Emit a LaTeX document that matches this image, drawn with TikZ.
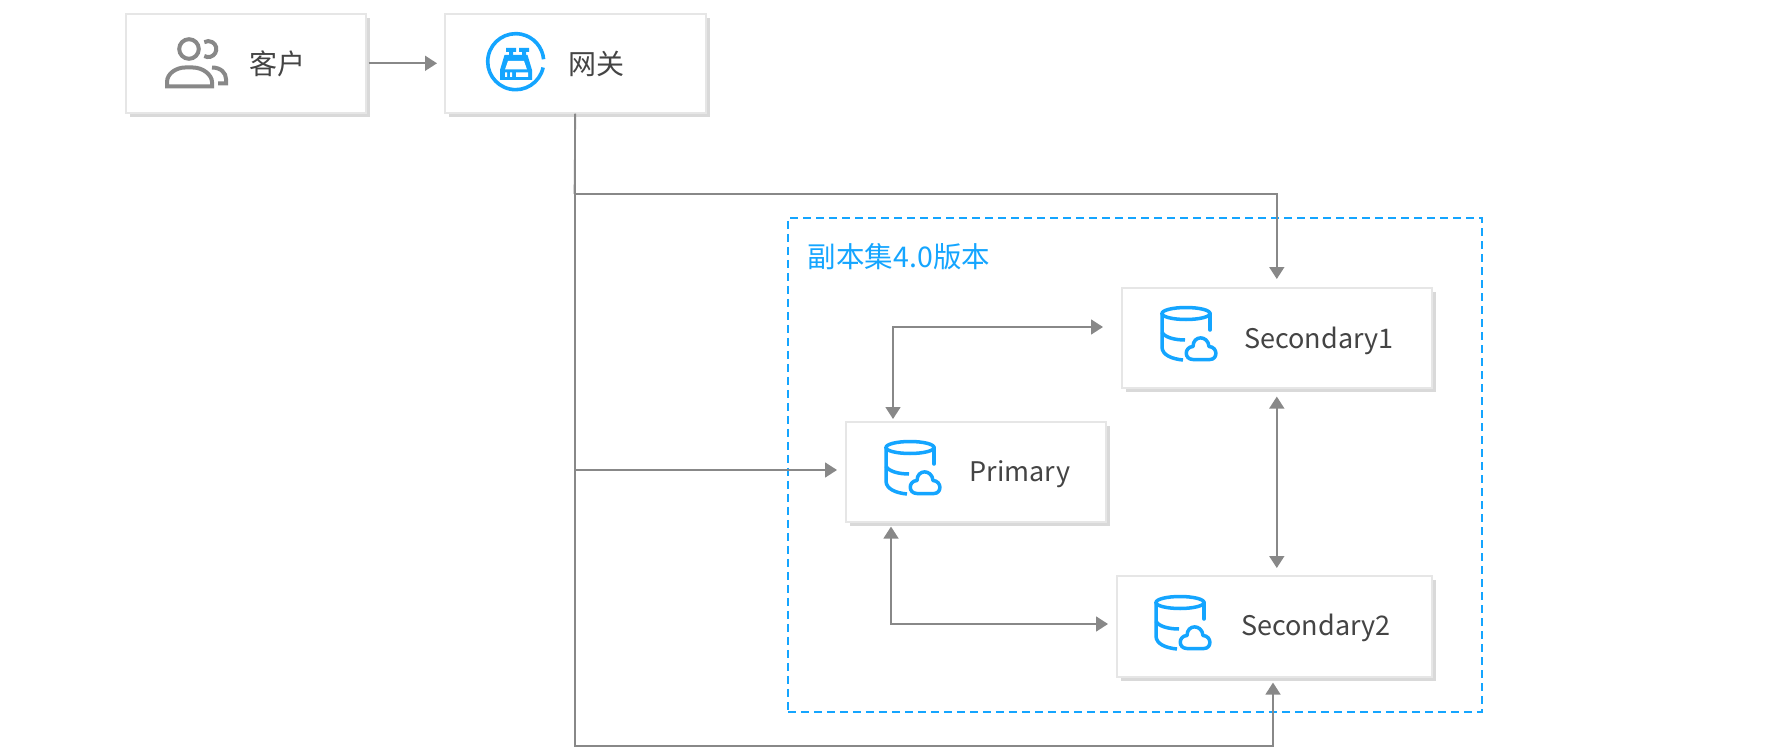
\documentclass[tikz,border=0pt]{standalone}
\usepackage{fontspec}
\setmainfont{Noto Sans CJK SC}
\usetikzlibrary{arrows.meta}
\usetikzlibrary{positioning}
\usetikzlibrary{shadows}
\definecolor{iconblue}{HTML}{14A5FF}
\definecolor{linegray}{HTML}{888888}
\definecolor{boxgray}{HTML}{E6E6E6}
\definecolor{shadowgray}{HTML}{D9D9D9}
\definecolor{textgray}{HTML}{444444}
\tikzset{
	srvbox/.style={draw=boxgray,line width=1.6pt,fill=white,anchor=north west,inner sep=0pt,
		drop shadow={shadow xshift=4pt,shadow yshift=-4pt,opacity=1,fill=shadowgray}},
	srvtext/.style={text=textgray,font=\fontsize{27}{30}\selectfont,inner sep=0pt},
	cjktext/.style={text=textgray,font=\fontsize{28}{30}\selectfont,inner sep=0pt},
	flow/.style={draw=linegray,line width=1.7pt},
	pics/dbcloud/.style={code={
		\draw[iconblue,line width=3.5pt,line cap=round] (36,18.5)ellipse(24 and 6);
		\draw[iconblue,line width=3.5pt,line cap=round] (60,18.5)--(60,35);
		\draw[iconblue,line width=3.5pt] (12,18.5)--(12,52)..controls(12,60)and(22,64)..(33,65);
		\draw[iconblue,line width=3.5pt] (12,37)..controls(14,42)and(24,45)..(35,45);
		\draw[iconblue,line width=3.5pt,line join=round] (43,64.5)..controls(34,64.5)and(34,52)..(43,51.5)
			..controls(43,40)and(58,40)..(59,51.5)..controls(68,52)and(68,64.5)..(60,64.5)--cycle;
	}},
	pics/gateicon/.style={code={
		\draw[iconblue,line width=3.6pt] (73.1,47.5)arc(12:355:28);
		\fill[iconblue] (36,28)rectangle(46,32) (39,32)rectangle(43,36) (49,28)rectangle(59,32) (52,32)rectangle(56,36);
		\fill[iconblue] (34.5,35)--(57.5,35)--(62,50)--(62,60)--(30,60)--(30,50)--cycle;
		\fill[white] (38,41)--(54,41)--(57,49.5)--(35,49.5)--cycle;
		\fill[white] (35,52.5)rectangle(37,57) (40,52.5)rectangle(42,57) (46,52.5)rectangle(58,57);
	}},
	pics/usericon/.style={code={
		\draw[linegray,line width=4pt] (34,24)circle(9.8);
		\draw[linegray,line width=4pt] (49.3,31)arc(120:-120:8);
		\draw[linegray,line width=4pt] (12,61.5)--(12,57)..controls(12,48)and(22,42.5)..(30,42.5)--(38,42.5)
			..controls(48,42.5)and(57,50)..(57,57)--(57,61.5)--cycle;
		\draw[linegray,line width=4pt] (57,42.5)..controls(66,42.5)and(71,48)..(71,54)--(71,58.5)--(63,58.5);
	}}
}
\begin{document}
\begin{tikzpicture}[x=1pt,y=-1pt,>={Triangle[length=12pt,width=15pt]}]
	\useasboundingbox (0,0) rectangle (1783,749);
	\node[draw=iconblue,line width=1.6pt,dash pattern=on 8pt off 5pt,minimum width=694pt,minimum height=494pt,anchor=north west,inner sep=0pt] (replset) at (787,217) {};
	\node[text=iconblue,font=\fontsize{28.5}{30}\selectfont,inner sep=0pt] (replsettext) at (899,257) {副本集4.0版本};
	\node[srvbox,minimum width=240pt,minimum height=99pt] (client) at (125,13) {};
	\node[srvbox,minimum width=261pt,minimum height=99pt] (gateway) at (444,13) {};
	\node[srvbox,minimum width=310pt,minimum height=100pt] (seconda) at (1121,287) {};
	\node[srvbox,minimum width=260pt,minimum height=100pt] (primary) at (845,421) {};
	\node[srvbox,minimum width=315pt,minimum height=101pt] (secondb) at (1116,575) {};
	\node[cjktext] (clienttext) at (277,64) {客户};
	\node[cjktext] (gatewaytext) at (596,64) {网关};
	\node[srvtext] (secondatext) at (1319,341) {Secondary1};
	\node[srvtext] (primarytext) at (1020,474) {Primary};
	\node[srvtext] (secondbtext) at (1316,628) {Secondary2};
	\pic at (155,25) {usericon};
	\pic at (470,20) {gateicon};
	\pic at (1150,295) {dbcloud};
	\pic at (874,429) {dbcloud};
	\pic at (1144,584) {dbcloud};
	\coordinate (branchtop) at (574.5,194);
	\coordinate (branchmid) at (574.5,470);
	\coordinate (branchlow) at (1273,746);
	\coordinate (priup) at (893,327);
	\coordinate (pridown) at (891,624);
	\draw[flow,->,shorten <=2pt,shorten >=7pt] (client.east)--(gateway.west);
	\draw[flow] (gateway.south)--(branchtop);
	\draw[flow,->,shorten >=8pt] (branchtop)-|(seconda.north);
	\draw[flow,->,shorten >=8pt] (branchmid)--(branchmid-|primary.west);
	\draw[flow,->,shorten >=5pt] (gateway.south)|-(branchlow)--(branchlow|-secondb.south);
	\draw[flow,<->,shorten <=2pt,shorten >=18pt] (priup|-primary.north)--(priup)--(priup-|seconda.west);
	\draw[flow,<->,shorten <=4pt,shorten >=8pt] (pridown|-primary.south)--(pridown)--(pridown-|secondb.west);
	\draw[flow,<->,shorten <=8pt,shorten >=7pt] (seconda.south)--(seconda.south|-secondb.north);
\end{tikzpicture}
\end{document}
